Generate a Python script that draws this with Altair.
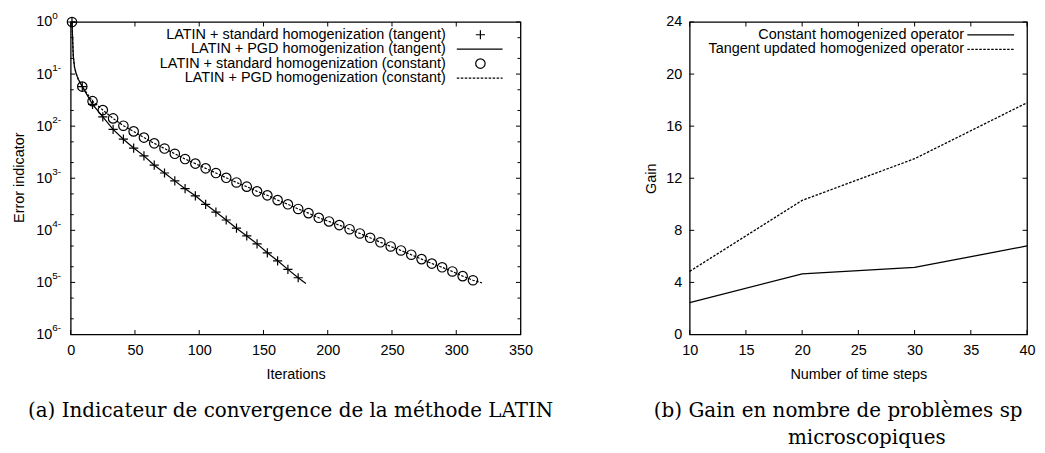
import altair as alt
import pandas as pd

# ---------------- data: left panel (convergence of LATIN) ----------------
STD_TAN_ITER = [1, 9, 17, 25, 33, 41, 49, 57, 65, 73, 81, 89, 97, 105, 113, 121,
                129, 137, 145, 153, 161, 169, 177]
STD_TAN_ERR = [1.0, 0.0575, 0.0263, 0.0151, 0.0087, 0.00562, 0.00380, 0.00269,
               0.00178, 0.00126, 8.9e-4, 6.3e-4, 4.6e-4, 3.16e-4, 2.24e-4, 1.58e-4,
               1.10e-4, 7.8e-5, 5.5e-5, 3.7e-5, 2.6e-5, 1.78e-5, 1.23e-5]

STD_CST_ITER = [1, 9, 17, 25, 33, 41, 49, 57, 65, 73, 81, 89, 97, 105, 113, 121,
                129, 137, 145, 153, 161, 169, 177, 185, 193, 201, 209, 217, 225,
                233, 241, 249, 257, 265, 273, 281, 289, 297, 305, 313]
STD_CST_ERR = [1.0, 0.0575, 0.0302, 0.0204, 0.0141, 0.0102, 0.00794, 0.00603,
               0.00468, 0.00372, 0.00295, 0.00234, 0.00191, 0.00155, 0.00126,
               0.00102, 8.3e-4, 6.9e-4, 5.6e-4, 4.7e-4, 3.8e-4, 3.16e-4, 2.57e-4,
               2.14e-4, 1.74e-4, 1.48e-4, 1.26e-4, 1.05e-4, 8.7e-5, 7.2e-5, 5.9e-5,
               4.9e-5, 4.1e-5, 3.4e-5, 2.8e-5, 2.3e-5, 1.95e-5, 1.62e-5, 1.32e-5,
               1.10e-5]

PGD_TAN_ITER = [1, 2, 3, 4, 5, 6, 7, 9, 17, 25, 33, 41, 49, 57, 65, 73, 81, 89,
                97, 105, 113, 121, 129, 137, 145, 153, 161, 169, 177, 183]
PGD_TAN_ERR = [1.0, 0.224, 0.135, 0.107, 0.091, 0.079, 0.071, 0.0575, 0.0263,
               0.0151, 0.0087, 0.00562, 0.00380, 0.00269, 0.00178, 0.00126, 8.9e-4,
               6.3e-4, 4.6e-4, 3.16e-4, 2.24e-4, 1.58e-4, 1.10e-4, 7.8e-5, 5.5e-5,
               3.7e-5, 2.6e-5, 1.78e-5, 1.23e-5, 9.5e-6]

PGD_CST_ITER = [1, 2, 3, 4, 5, 6, 7, 9, 17, 25, 33, 41, 49, 57, 65, 73, 81, 89,
                97, 105, 113, 121, 129, 137, 145, 153, 161, 169, 177, 185, 193,
                201, 209, 217, 225, 233, 241, 249, 257, 265, 273, 281, 289, 297,
                305, 313, 320]
PGD_CST_ERR = [1.0, 0.224, 0.135, 0.107, 0.091, 0.079, 0.071, 0.0575, 0.0302,
               0.0204, 0.0141, 0.0102, 0.00794, 0.00603, 0.00468, 0.00372, 0.00295,
               0.00234, 0.00191, 0.00155, 0.00126, 0.00102, 8.3e-4, 6.9e-4, 5.6e-4,
               4.7e-4, 3.8e-4, 3.16e-4, 2.57e-4, 2.14e-4, 1.74e-4, 1.48e-4,
               1.26e-4, 1.05e-4, 8.7e-5, 7.2e-5, 5.9e-5, 4.9e-5, 4.1e-5, 3.4e-5,
               2.8e-5, 2.3e-5, 1.95e-5, 1.62e-5, 1.32e-5, 1.10e-5, 9.8e-6]

LEFT_LEGEND = ["LATIN + standard homogenization (tangent)",
               "LATIN + PGD homogenization (tangent)",
               "LATIN + standard homogenization (constant)",
               "LATIN + PGD homogenization (constant)"]

X1_TICKS = [0, 50, 100, 150, 200, 250, 300, 350]
Y1_TICKS = [1, 1e-1, 1e-2, 1e-3, 1e-4, 1e-5, 1e-6]
Y1_TICK_BASE = "10"
Y1_TICK_EXP = ["0", "1-", "2-", "3-", "4-", "5-", "6-"]
Y1_MINOR = [5e-1, 2e-1, 5e-2, 2e-2, 5e-3, 2e-3, 5e-4, 2e-4, 5e-5, 2e-5, 5e-6, 2e-6]

# ---------------- data: right panel (gain) ----------------
STEPS = [10, 20, 30, 40]
GAIN_CONSTANT = [2.45, 4.65, 5.15, 6.8]
GAIN_TANGENT = [4.85, 10.3, 13.5, 17.8]
RIGHT_LEGEND = ["Constant homogenized operator",
                "Tangent updated homogenized operator"]
X2_TICKS = [10, 15, 20, 25, 30, 35, 40]
Y2_TICKS = [0, 4, 8, 12, 16, 20, 24]

CAPTION_A = "(a)  Indicateur de convergence de la méthode LATIN"
CAPTION_B1 = "(b)  Gain en nombre de problèmes spatiaux"
CAPTION_B2 = "microscopiques"

# ---------------- styling ----------------
W1, W2, H = 452, 339, 314
FONT = "Liberation Sans"
FS = 14.5
LFS = 14.5
SUPFS = 10
SERIF = "DejaVu Serif"
CFS = 20
TICK = 4.5
MTICK = 3
LW = 1.2
DASH = [2.5, 1.5]
PLUS = "M-1,0H1M0,-1V1"

xs1 = alt.Scale(domain=[0, 350], nice=False, zero=False)
ys1 = alt.Scale(type="log", domain=[1e-6, 1], nice=False)
xs2 = alt.Scale(domain=[10, 40], nice=False, zero=False)
ys2 = alt.Scale(domain=[0, 24], nice=False, zero=False)


def df(**cols):
    return pd.DataFrame(cols)


one = df(k=[0])

# ---- left panel ----
x1_axis = alt.Axis(values=X1_TICKS, ticks=False, domain=False, grid=False,
                   labelPadding=9, labelFlush=False, format="d",
                   title="Iterations", titleX=W1 / 2, titleY=40,
                   titleBaseline="middle", titleAlign="center")
y1_axis = alt.Axis(values=Y1_TICKS, ticks=False, domain=False, grid=False,
                   labelPadding=19, labelFlush=False,
                   labelExpr="'" + Y1_TICK_BASE + "'",
                   title="Error indicator", titleX=-51, titleY=H / 2 - 1,
                   titleBaseline="middle", titleAlign="center", titleAngle=270)


def X1(f):
    return alt.X(f, type="quantitative", scale=xs1, axis=x1_axis)


def Y1(f):
    return alt.Y(f, type="quantitative", scale=ys1, axis=y1_axis)


pgd_tan = alt.Chart(df(it=PGD_TAN_ITER, err=PGD_TAN_ERR)).mark_line(
    color="black", strokeWidth=LW).encode(x=X1("it"), y=Y1("err"))
pgd_cst = alt.Chart(df(it=PGD_CST_ITER, err=PGD_CST_ERR)).mark_line(
    color="black", strokeWidth=LW, strokeDash=DASH).encode(x=X1("it"), y=Y1("err"))
std_tan = alt.Chart(df(it=STD_TAN_ITER, err=STD_TAN_ERR)).mark_point(
    shape=PLUS, size=85, color="black", strokeWidth=LW, opacity=1,
    filled=False).encode(x=X1("it"), y=Y1("err"))
std_cst = alt.Chart(df(it=STD_CST_ITER, err=STD_CST_ERR)).mark_point(
    shape="circle", size=90, color="black", strokeWidth=LW, opacity=1,
    filled=False).encode(x=X1("it"), y=Y1("err"))

# superscript exponents of the log-axis tick labels
y1_sup = alt.Chart(df(v=Y1_TICKS, e=Y1_TICK_EXP)).mark_text(
    align="left", baseline="middle", font=FONT, fontSize=SUPFS, color="black",
    dy=-6.5).encode(y=Y1("v"), x=alt.value(-18.5), text="e:N")

rule = dict(color="black", strokeWidth=1)
x1b = alt.Chart(df(v=X1_TICKS)).mark_rule(**rule).encode(
    x=X1("v"), y=alt.value(H), y2=alt.value(H - TICK))
x1t = alt.Chart(df(v=X1_TICKS)).mark_rule(**rule).encode(
    x=X1("v"), y=alt.value(0), y2=alt.value(TICK))
y1l = alt.Chart(df(v=Y1_TICKS)).mark_rule(**rule).encode(
    y=Y1("v"), x=alt.value(0), x2=alt.value(TICK))
y1r = alt.Chart(df(v=Y1_TICKS)).mark_rule(**rule).encode(
    y=Y1("v"), x=alt.value(W1 - TICK), x2=alt.value(W1))
y1lm = alt.Chart(df(v=Y1_MINOR)).mark_rule(**rule).encode(
    y=Y1("v"), x=alt.value(0), x2=alt.value(MTICK))
y1rm = alt.Chart(df(v=Y1_MINOR)).mark_rule(**rule).encode(
    y=Y1("v"), x=alt.value(W1 - MTICK), x2=alt.value(W1))

leg_rows = [12.8, 27.3, 41.8, 56.3]
leg1 = []
for lab, ry in zip(LEFT_LEGEND, leg_rows):
    leg1.append(alt.Chart(one).mark_text(
        text=lab, align="right", baseline="middle", font=FONT, fontSize=LFS,
        color="black").encode(x=alt.value(377), y=alt.value(ry)))
leg1.append(alt.Chart(one).mark_point(
    shape=PLUS, size=85, color="black", strokeWidth=LW, opacity=1,
    filled=False).encode(x=alt.value(411.7), y=alt.value(leg_rows[0])))
leg1.append(alt.Chart(one).mark_rule(color="black", strokeWidth=LW).encode(
    x=alt.value(388), x2=alt.value(434), y=alt.value(leg_rows[1])))
leg1.append(alt.Chart(one).mark_point(
    shape="circle", size=90, color="black", strokeWidth=LW, opacity=1,
    filled=False).encode(x=alt.value(411.7), y=alt.value(leg_rows[2])))
leg1.append(alt.Chart(one).mark_rule(
    color="black", strokeWidth=LW, strokeDash=DASH).encode(
    x=alt.value(388), x2=alt.value(434), y=alt.value(leg_rows[3])))

cap_a = alt.Chart(one).mark_text(
    text=CAPTION_A, align="center", baseline="middle", font=SERIF,
    fontSize=CFS, color="black").encode(x=alt.value(221), y=alt.value(391))

# white (invisible) anchor fixing the top-left corner of the drawing
anchor = alt.Chart(one).mark_rule(color="white", strokeWidth=1).encode(
    x=alt.value(-61.5), x2=alt.value(-61.5), y=alt.value(-10.5), y2=alt.value(-10.5))

left = alt.layer(pgd_tan, pgd_cst, std_tan, std_cst, y1_sup, x1b, x1t, y1l, y1r,
                 y1lm, y1rm, *leg1, cap_a, anchor).properties(width=W1, height=H)

# ---- right panel ----
x2_axis = alt.Axis(values=X2_TICKS, ticks=False, domain=False, grid=False,
                   labelPadding=9, labelFlush=False, format="d",
                   title="Number of time steps", titleX=W2 / 2, titleY=40,
                   titleBaseline="middle", titleAlign="center")
y2_axis = alt.Axis(values=Y2_TICKS, ticks=False, domain=False, grid=False,
                   labelPadding=8, labelFlush=False, format="d", title="Gain",
                   titleX=-38, titleY=H / 2, titleBaseline="middle",
                   titleAlign="center", titleAngle=270)


def X2(f):
    return alt.X(f, type="quantitative", scale=xs2, axis=x2_axis)


def Y2(f):
    return alt.Y(f, type="quantitative", scale=ys2, axis=y2_axis)


g_const = alt.Chart(df(s=STEPS, g=GAIN_CONSTANT)).mark_line(
    color="black", strokeWidth=LW + 0.1).encode(x=X2("s"), y=Y2("g"))
g_tang = alt.Chart(df(s=STEPS, g=GAIN_TANGENT)).mark_line(
    color="black", strokeWidth=LW + 0.1, strokeDash=DASH).encode(x=X2("s"), y=Y2("g"))

x2b = alt.Chart(df(v=X2_TICKS)).mark_rule(**rule).encode(
    x=X2("v"), y=alt.value(H), y2=alt.value(H - TICK))
x2t = alt.Chart(df(v=X2_TICKS)).mark_rule(**rule).encode(
    x=X2("v"), y=alt.value(0), y2=alt.value(TICK))
y2l = alt.Chart(df(v=Y2_TICKS)).mark_rule(**rule).encode(
    y=Y2("v"), x=alt.value(0), x2=alt.value(TICK))
y2r = alt.Chart(df(v=Y2_TICKS)).mark_rule(**rule).encode(
    y=Y2("v"), x=alt.value(W2 - TICK), x2=alt.value(W2))

leg2_rows = [13.0, 27.5]
leg2 = []
for lab, ry in zip(RIGHT_LEGEND, leg2_rows):
    leg2.append(alt.Chart(one).mark_text(
        text=lab, align="right", baseline="middle", font=FONT, fontSize=LFS,
        color="black").encode(x=alt.value(275.7), y=alt.value(ry)))
leg2.append(alt.Chart(one).mark_rule(color="black", strokeWidth=LW + 0.1).encode(
    x=alt.value(279), x2=alt.value(326), y=alt.value(leg2_rows[0])))
leg2.append(alt.Chart(one).mark_rule(
    color="black", strokeWidth=LW + 0.1, strokeDash=DASH).encode(
    x=alt.value(279), x2=alt.value(326), y=alt.value(leg2_rows[1])))

cap_b1 = alt.Chart(one).mark_text(
    text=CAPTION_B1, align="left", baseline="middle", font=SERIF, fontSize=CFS,
    color="black", limit=387, ellipsis=" ").encode(
    x=alt.value(-36), y=alt.value(391))
cap_b2 = alt.Chart(one).mark_text(
    text=CAPTION_B2, align="center", baseline="middle", font=SERIF, fontSize=CFS,
    color="black").encode(x=alt.value(178), y=alt.value(418))

right = alt.layer(g_const, g_tang, x2b, x2t, y2l, y2r, *leg2, cap_b1,
                  cap_b2).properties(width=W2, height=H)

chart = alt.hconcat(left, right, spacing=170, bounds="flush").configure(
    padding=0
).configure_view(
    stroke="black", strokeWidth=1.3
).configure_axis(
    labelFont=FONT, labelFontSize=FS, labelColor="black",
    titleFont=FONT, titleFontSize=FS, titleColor="black",
    titleFontWeight="normal"
)

chart.save("out.html", embed_options={"renderer": "svg", "actions": False})
